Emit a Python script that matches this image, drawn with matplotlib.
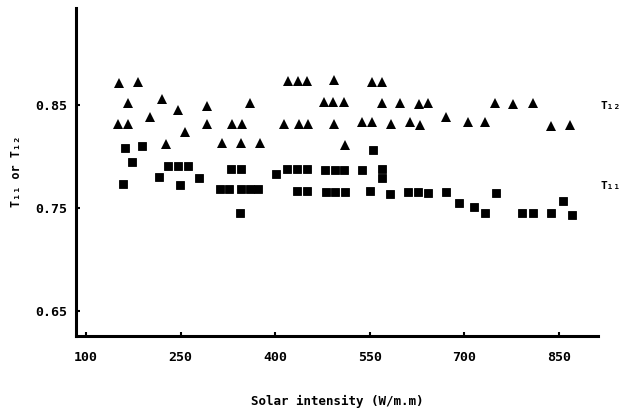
import matplotlib
matplotlib.use("Agg")
import matplotlib.pyplot as plt

# data
t12_x = [152, 183, 166, 220, 245, 150, 167, 201, 257, 226,
         292, 292, 360, 331, 347, 315, 345, 376, 421, 436,
         451, 477, 414, 437, 452, 493, 553, 569, 492, 509,
         569, 598, 628, 642, 493, 537, 554, 584, 613, 630,
         671, 511, 749, 777, 808, 706, 733, 838, 868]
t12_y = [0.871, 0.872, 0.852, 0.856, 0.845, 0.832, 0.832, 0.838, 0.824, 0.812,
         0.849, 0.832, 0.852, 0.832, 0.832, 0.813, 0.813, 0.813, 0.873, 0.873,
         0.873, 0.853, 0.832, 0.832, 0.832, 0.874, 0.872, 0.872, 0.853, 0.853,
         0.852, 0.852, 0.851, 0.852, 0.832, 0.833, 0.833, 0.832, 0.833, 0.831,
         0.838, 0.811, 0.852, 0.851, 0.852, 0.833, 0.833, 0.830, 0.831]

t11_x = [162, 188, 173, 158, 216, 230, 245, 261, 249, 279,
         330, 345, 312, 327, 346, 360, 373, 344, 401, 418,
         434, 450, 434, 450, 479, 495, 509, 537, 569, 569,
         555, 480, 495, 511, 551, 582, 611, 627, 643, 671,
         692, 716, 732, 750, 791, 809, 838, 856, 870]
t11_y = [0.808, 0.810, 0.795, 0.773, 0.780, 0.791, 0.791, 0.791, 0.772, 0.779,
         0.788, 0.788, 0.768, 0.768, 0.768, 0.768, 0.768, 0.745, 0.783, 0.788,
         0.788, 0.788, 0.767, 0.767, 0.787, 0.787, 0.787, 0.787, 0.788, 0.779,
         0.806, 0.766, 0.766, 0.766, 0.767, 0.764, 0.766, 0.766, 0.765, 0.766,
         0.755, 0.751, 0.745, 0.765, 0.745, 0.745, 0.745, 0.757, 0.743]

x_ticks = [100, 250, 400, 550, 700, 850]
y_ticks = [0.65, 0.75, 0.85]
y_tick_labels = ["0.65", "0.75", "0.85"]

mono = ["DejaVu Sans Mono", "DejaVu Sans"]

fig = plt.figure(figsize=(6.23, 4.13), dpi=100)
ax = fig.add_axes([0.122, 0.186, 0.838, 0.795])

ax.plot(t12_x, t12_y, linestyle="none", marker="^", markersize=7.5,
        color="black", markeredgewidth=0)
ax.plot(t11_x, t11_y, linestyle="none", marker="s", markersize=6,
        color="black", markeredgewidth=0.6, markeredgecolor="black")

ax.set_xlim(84, 912)
ax.set_ylim(0.6257, 0.9442)

ax.spines["top"].set_visible(False)
ax.spines["right"].set_visible(False)
ax.spines["left"].set_linewidth(2.2)
ax.spines["bottom"].set_linewidth(2.2)

ax.set_xticks(x_ticks)
ax.set_xticklabels([str(v) for v in x_ticks], family=mono, fontweight="bold", fontsize=9.5)
ax.set_yticks(y_ticks)
ax.set_yticklabels(y_tick_labels, family=mono, fontweight="bold", fontsize=9.5)
ax.tick_params(axis="x", direction="in", length=3, width=1.5, pad=11)
ax.tick_params(axis="y", direction="in", length=3, width=1.5, pad=6)

ax.set_xlabel("Solar intensity (W/m.m)", family=mono, fontweight="bold",
              fontsize=9, labelpad=22)
fig.text(0.026, 0.584, "T₁₁ or T₁₂", rotation=90, family=mono,
         fontweight="bold", fontsize=8.5, ha="center", va="center")

# series labels at the right end
ax.text(1.005, 0.70, "T₁₂", transform=ax.transAxes, family=mono,
        fontweight="bold", fontsize=8, va="center", clip_on=False)
ax.text(1.005, 0.457, "T₁₁", transform=ax.transAxes, family=mono,
        fontweight="bold", fontsize=8, va="center", clip_on=False)

plt.savefig("out.png", dpi=100)
